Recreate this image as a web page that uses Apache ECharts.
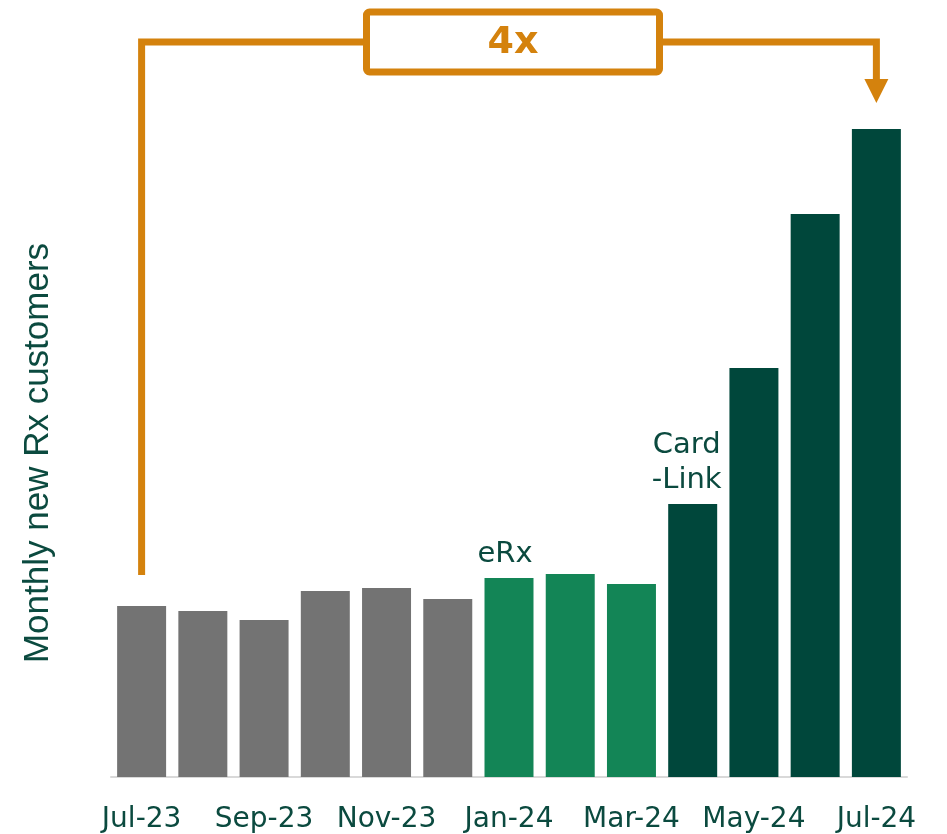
<!DOCTYPE html>
<html>
<head>
<meta charset="utf-8">
<script src="https://cdn.jsdelivr.net/npm/echarts@6/dist/echarts.min.js"></script>
<style>
  html, body { margin: 0; padding: 0; background: #fff; }
  #main { width: 947px; height: 834px; }
</style>
</head>
<body>
<div id="main"></div>
<script>
  // months on the x axis
  var months = ['Jul-23','Aug-23','Sep-23','Oct-23','Nov-23','Dec-23','Jan-24','Feb-24','Mar-24','Apr-24','May-24','Jun-24','Jul-24'];
  // monthly new Rx customers (relative units, no scale shown)
  var customers = [171, 166, 157, 186, 189, 178, 199, 203, 193, 273, 409, 563, 648];
  // phase of each month: 0 = before, 1 = eRx, 2 = CardLink
  var phase = [0, 0, 0, 0, 0, 0, 1, 1, 1, 2, 2, 2, 2];
  var phaseColors = ['#737373', '#138556', '#00473b'];
  // annotation labels on bars
  var notes = { 6: 'eRx', 9: 'Card\n-Link' };
  var growthText = '4x';

  var textColor = '#0b4a3f';
  var orange = '#d4820d';

  var chart = echarts.init(document.getElementById('main'));

  var barData = customers.map(function (v, i) {
    var item = { value: v, itemStyle: { color: phaseColors[phase[i]] } };
    if (notes[i]) {
      item.label = {
        show: true,
        position: 'top',
        distance: 6,
        offset: [i === 9 ? -6 : -4, 0],
        formatter: notes[i],
        color: textColor,
        fontSize: 29,
        lineHeight: 35,
        fontFamily: 'DejaVu Sans'
      };
    }
    return item;
  });

  chart.setOption({
    animation: false,
    grid: { left: 111, right: 40, top: 129, bottom: 57 },
    xAxis: {
      type: 'category',
      data: months,
      axisLine: { lineStyle: { color: '#d9d9d9', width: 2 } },
      axisTick: { show: false },
      axisLabel: {
        interval: 1,
        margin: 29,
        color: textColor,
        fontSize: 28,
        fontFamily: 'DejaVu Sans'
      }
    },
    yAxis: {
      type: 'value',
      min: 0,
      max: 'dataMax',
      name: 'Monthly new Rx customers',
      nameLocation: 'middle',
      nameGap: 55,
      nameTextStyle: { color: textColor, fontSize: 35, fontFamily: 'Liberation Sans' },
      axisLine: { show: false },
      axisTick: { show: false },
      axisLabel: { show: false },
      splitLine: { show: false }
    },
    series: [{
      type: 'bar',
      data: barData,
      barWidth: '80%'
    }]
  });

  // bracket annotation from first to last bar
  var last = months.length - 1;
  var p0 = chart.convertToPixel({ gridIndex: 0 }, [0, customers[0]]);
  var p1 = chart.convertToPixel({ gridIndex: 0 }, [last, customers[last]]);
  var topY = 42;
  var midX = (p0[0] + p1[0]) / 2 + 4;
  var boxW = 293, boxH = 60;
  var arrowTip = p1[1] - 26;
  var lw = 7;

  chart.setOption({
    graphic: [
      {
        type: 'polyline',
        shape: { points: [[p0[0], p0[1] - 31], [p0[0], topY], [midX - boxW / 2, topY]] },
        style: { stroke: orange, lineWidth: lw, fill: null, lineJoin: 'miter' }
      },
      {
        type: 'polyline',
        shape: { points: [[midX + boxW / 2, topY], [p1[0], topY], [p1[0], arrowTip - 20]] },
        style: { stroke: orange, lineWidth: lw, fill: null, lineJoin: 'miter' }
      },
      {
        type: 'polygon',
        shape: { points: [[p1[0] - 12, arrowTip - 24], [p1[0] + 12, arrowTip - 24], [p1[0], arrowTip]] },
        style: { fill: orange }
      },
      {
        type: 'rect',
        shape: { x: midX - boxW / 2, y: topY - boxH / 2, width: boxW, height: boxH, r: 3 },
        style: { stroke: orange, lineWidth: lw, fill: '#fff' }
      },
      {
        type: 'text',
        x: midX,
        y: topY + 1,
        style: {
          text: growthText,
          fill: orange,
          font: 'bold 38px "DejaVu Sans"',
          align: 'center',
          verticalAlign: 'middle'
        }
      }
    ]
  });
</script>
</body>
</html>
